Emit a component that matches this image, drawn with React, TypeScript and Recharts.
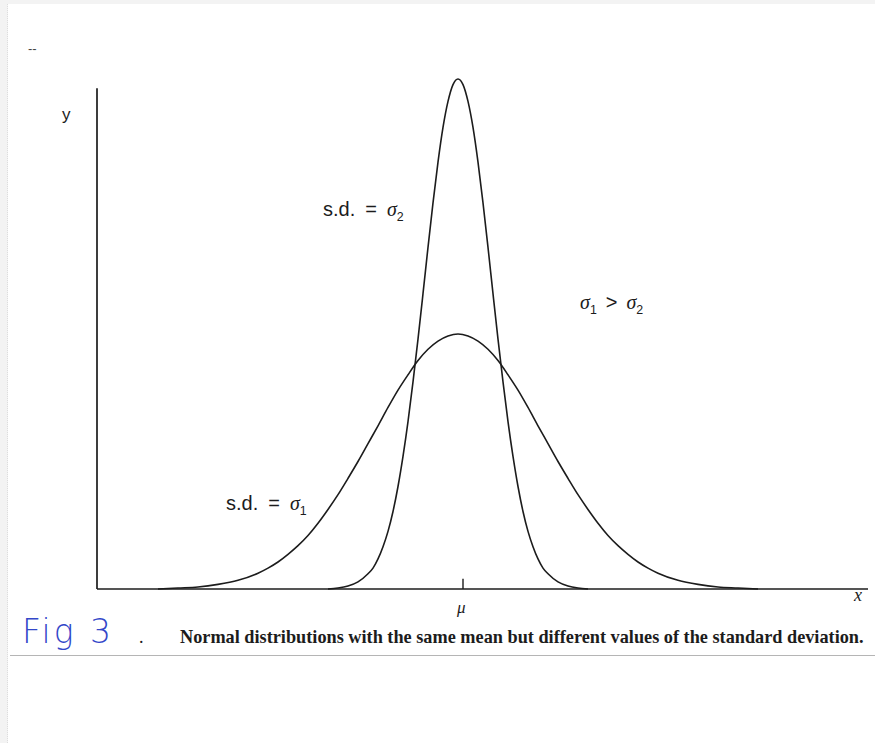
import React from 'react';
import { LineChart, Line, XAxis, YAxis, ReferenceLine } from 'recharts';

// x: offset from the mean (1 unit = 10 px of the figure), y: % of the tall peak
const narrowX = [-13, -12, -11, -10, -9, -8.5, -8, -7.5, -7, -6.5, -6, -5.5, -5, -4.5, -4, -3.5, -3, -2.5, -2, -1.5, -1, -0.5, 0,
  0.5, 1, 1.5, 2, 2.5, 3, 3.5, 4, 4.5, 5, 5.5, 6, 6.5, 7, 7.5, 8, 8.5, 9, 10, 11, 12, 13];
const narrowY = [0, 0.2, 0.6, 1.4, 3.0, 4.1, 5.9, 8.3, 11.3, 15.2, 20.1, 26.0, 32.8, 40.6, 49.0, 57.9, 67.0, 75.7, 83.7, 90.5, 95.6, 98.9, 100,
  98.9, 95.6, 90.5, 83.7, 75.7, 67.0, 57.9, 49.0, 40.6, 32.8, 26.0, 20.1, 15.2, 11.3, 8.3, 5.9, 4.1, 3.0, 1.4, 0.6, 0.2, 0];

const wideX = [-30, -28, -26, -24, -22, -20, -19, -18, -17, -16, -15, -14, -13, -12, -11, -10, -9, -8, -7, -6, -5, -4, -3, -2, -1, 0,
  1, 2, 3, 4, 5, 6, 7, 8, 9, 10, 11, 12, 13, 14, 15, 16, 17, 18, 19, 20, 22, 24, 26, 28, 30];
const wideY = [0, 0.2, 0.4, 0.9, 1.7, 3.1, 4.1, 5.3, 6.8, 8.5, 10.5, 12.9, 15.6, 18.5, 21.7, 25.0, 28.5, 32.0, 35.6, 39.0, 42.0, 44.8, 47.0, 48.6, 49.6, 50,
  49.6, 48.6, 47.0, 44.8, 42.0, 39.0, 35.6, 32.0, 28.5, 25.0, 21.7, 18.5, 15.6, 12.9, 10.5, 8.5, 6.8, 5.3, 4.1, 3.1, 1.7, 0.9, 0.4, 0.2, 0];

const xDomain = [-36.1, 41.0];
const yAxisTop = 98.2;
const muTick = 2;

const narrowData = narrowX.map((x, i) => ({ x, y: narrowY[i] }));
const wideData = wideX.map((x, i) => ({ x, y: wideY[i] }));

const ink = '#1c1c1c';
const sans = '"Liberation Sans", Arial, sans-serif';
const serif = '"Liberation Serif", "Times New Roman", serif';

const Sigma = ({ n }: { n: number }) => (
  <span>
    <span style={{ fontFamily: serif, fontStyle: 'italic' }}>σ</span>
    <sub style={{ fontSize: '0.62em' }}>{n}</sub>
  </span>
);

const abs = (left: number, top: number): React.CSSProperties => ({
  position: 'absolute',
  left,
  top,
  color: ink,
  whiteSpace: 'nowrap',
  lineHeight: 1,
});

const gap = (w: number) => <span style={{ display: 'inline-block', width: w }} />;

export default function App() {
  return (
    <div
      style={{
        position: 'absolute',
        left: 0,
        top: 0,
        width: 875,
        height: 743,
        background: '#fff',
        overflow: 'hidden',
      }}
    >
      {/* scan edges */}
      <div style={{ position: 'absolute', left: 0, top: 0, width: 7, height: 743, borderRight: '1px dotted #ddd', background: '#f3f3f3' }} />
      <div style={{ position: 'absolute', left: 0, top: 0, width: 875, height: 4, background: '#f3f3f3' }} />

      <LineChart
        width={875}
        height={743}
        margin={{ top: 79, right: 7, bottom: 154, left: 97 }}
        style={{ position: 'absolute', left: 0, top: 0 }}
      >
        <XAxis dataKey="x" type="number" domain={xDomain} allowDataOverflow hide />
        <YAxis type="number" domain={[0, 100]} hide />
        <ReferenceLine y={0} stroke={ink} strokeWidth={1.7} />
        <ReferenceLine
          segment={[{ x: xDomain[0], y: 0 }, { x: xDomain[0], y: yAxisTop }]}
          stroke={ink}
          strokeWidth={1.7}
        />
        <ReferenceLine segment={[{ x: 0.5, y: 0 }, { x: 0.5, y: muTick }]} stroke={ink} strokeWidth={1.4} />
        <Line data={wideData} dataKey="y" type="monotone" stroke={ink} strokeWidth={1.6} dot={false} isAnimationActive={false} />
        <Line data={narrowData} dataKey="y" type="monotone" stroke={ink} strokeWidth={1.6} dot={false} isAnimationActive={false} />
      </LineChart>

      <div style={{ ...abs(28, 42), fontFamily: sans, fontSize: 13, color: '#444' }}>--</div>
      <div style={{ ...abs(62, 106), fontFamily: sans, fontSize: 17 }}>y</div>
      <div style={{ ...abs(323, 199), fontFamily: sans, fontSize: 20 }}>
        s.d.{gap(10)}={gap(10)}<Sigma n={2} />
      </div>
      <div style={{ ...abs(580, 292), fontFamily: sans, fontSize: 20 }}>
        <Sigma n={1} />{gap(9)}&gt;{gap(9)}<Sigma n={2} />
      </div>
      <div style={{ ...abs(226, 493), fontFamily: sans, fontSize: 20 }}>
        s.d.{gap(10)}={gap(10)}<Sigma n={1} />
      </div>
      <div style={{ ...abs(457, 599), fontFamily: serif, fontStyle: 'italic', fontSize: 17 }}>μ</div>
      <div style={{ ...abs(854, 586), fontFamily: serif, fontStyle: 'italic', fontSize: 18 }}>x</div>

      <div style={{ ...abs(22, 615), fontFamily: '"DejaVu Sans", sans-serif', fontSize: 33, letterSpacing: 3, color: '#3347c9', fontWeight: 300 }}>
        Fig 3
      </div>
      <div style={{ ...abs(139, 628), fontFamily: serif, fontSize: 18 }}>.</div>
      <div style={{ ...abs(180, 628), fontFamily: serif, fontWeight: 'bold', fontSize: 18.25 }}>
        Normal distributions with the same mean but different values of the standard deviation.
      </div>
      <div style={{ position: 'absolute', left: 10, top: 655, width: 865, height: 1, background: '#b5b5b5' }} />
    </div>
  );
}
